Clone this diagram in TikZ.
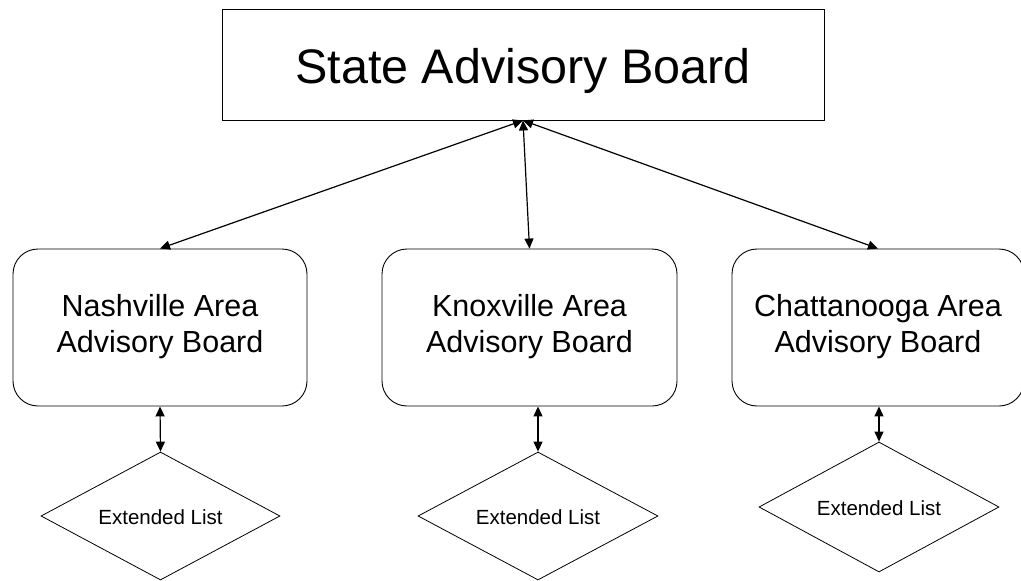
\documentclass[tikz,border=0pt]{standalone}
\usepackage{fontspec}
\setmainfont{Liberation Sans}
\usetikzlibrary{shapes.geometric,arrows.meta}
\newcommand{\twolines}[2]{\raisebox{-2.3pt}{\begin{tabular}{@{}c@{}}#1\\#2\end{tabular}}}
\begin{document}
\begin{tikzpicture}[x=1pt,y=-1pt,
  sbox/.style={draw, line width=0.9pt, minimum width=602pt, minimum height=111pt, inner sep=0pt,
    text height=37pt, text depth=0pt, font=\fontsize{48.5}{58}\selectfont},
  areabox/.style={draw, line width=0.9pt, rounded corners=25pt, minimum width=294pt, minimum height=157pt,
    inner sep=0pt, font=\fontsize{30.5}{36}\selectfont},
  dia/.style={draw, diamond, aspect=1.87, line width=0.8pt, inner sep=0pt, minimum width=240pt, minimum height=128pt,
    text height=17pt, text depth=0pt, font=\fontsize{20.5}{24}\selectfont},
  conn/.style={line width=1.2pt, {Triangle[length=10pt,width=9pt]}-{Triangle[length=10pt,width=9pt]}}
]
\useasboundingbox (0,0) rectangle (1021,581);
\node[sbox] (sab) at (523,64.5) {State Advisory Board};
\node[areabox] (nash) at (160,327.5) {\twolines{Nashville Area}{Advisory Board}};
\node[areabox, minimum width=295pt] (knox) at (529.5,327.5) {\twolines{Knoxville Area}{Advisory Board}};
\node[areabox, minimum width=292pt] (chat) at (878,327.5) {\twolines{Chattanooga Area}{Advisory Board}};
\node[dia, minimum width=239pt] (d1) at (160.5,516) {Extended List};
\node[dia] (d2) at (538,516) {Extended List};
\node[dia, minimum height=130pt] (d3) at (879,507) {Extended List};
\draw[conn] (sab.south) -- (nash.north);
\draw[conn] (sab.south) -- (knox.north);
\draw[conn] (sab.south) -- (chat.north);
\draw[conn] (nash.south) -- (d1.north);
\draw[conn] (d2.north |- knox.south) -- (d2.north);
\draw[conn] (d3.north |- chat.south) -- (d3.north);
\end{tikzpicture}
\end{document}
